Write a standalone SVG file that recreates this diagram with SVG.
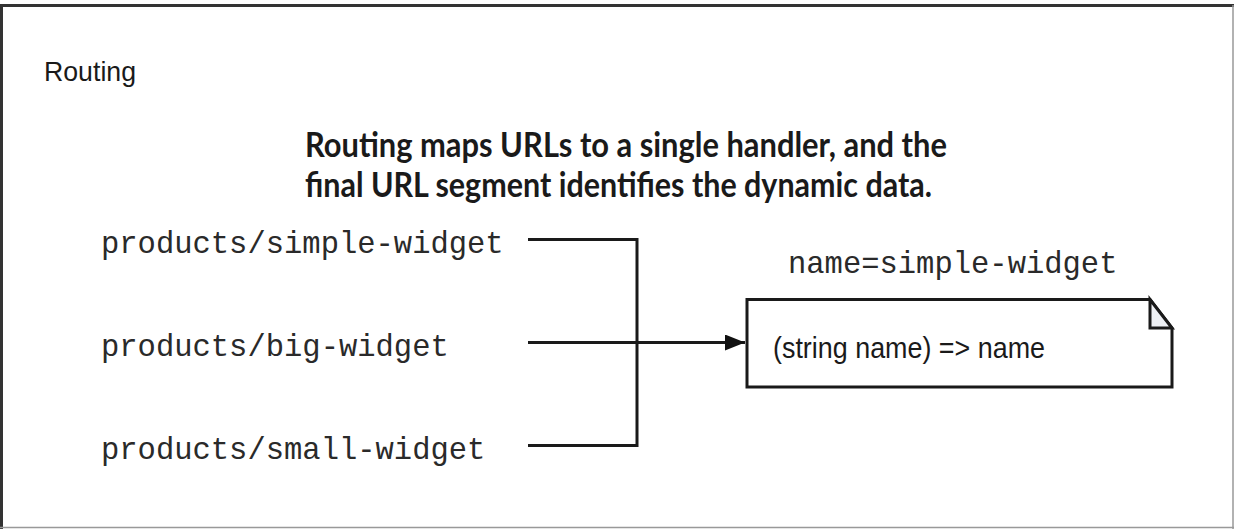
<svg xmlns="http://www.w3.org/2000/svg" width="1234" height="529" viewBox="0 0 1234 529">
<defs>
<style>
.mono{font-family:"Liberation Mono","Courier New",monospace;font-size:30.5px;fill:#2a2a2a}
.sans{font-family:"Liberation Sans",Arial,sans-serif;fill:#1a1a1a}
.title{font-family:Lato,"Liberation Sans",sans-serif;font-weight:bold;font-size:35px;fill:#1a1a1a}
.wire{fill:none;stroke:#1a1a1a;stroke-width:3}
</style>
<marker id="arr" viewBox="0 0 20 16" refX="20" refY="8" markerWidth="20" markerHeight="16" markerUnits="userSpaceOnUse" orient="auto">
<path d="M0,0 L20,8 L0,16 Z" fill="#111"/>
</marker>
</defs>
<rect width="1234" height="529" fill="#fff"/>
<g id="frame">
<line x1="0" y1="5.5" x2="1234" y2="5.5" stroke="#333" stroke-width="3"/>
<line x1="1.5" y1="5" x2="1.5" y2="529" stroke="#333" stroke-width="3"/>
<line x1="1233" y1="5" x2="1233" y2="529" stroke="#999" stroke-width="1.5"/>
<line x1="0" y1="527.5" x2="1234" y2="527.5" stroke="#999" stroke-width="1.5"/>
</g>
<g id="label-routing"><text class="sans" x="44" y="81" font-size="28" textLength="92" lengthAdjust="spacingAndGlyphs">Routing</text></g>
<g id="title">
<text class="title" x="305" y="157" textLength="642" lengthAdjust="spacingAndGlyphs">Routing maps URLs to a single handler, and the</text>
<text class="title" x="305" y="197" textLength="627" lengthAdjust="spacingAndGlyphs">final URL segment identifies the dynamic data.</text>
</g>
<g id="url-simple"><text class="mono" x="101" y="253">products/simple-widget</text></g>
<g id="url-big"><text class="mono" x="101" y="356">products/big-widget</text></g>
<g id="url-small"><text class="mono" x="101" y="459">products/small-widget</text></g>
<g id="connectors">
<polyline class="wire" points="528,239.5 637,239.5 637,445.5 528,445.5"/>
<line class="wire" x1="528" y1="342.5" x2="745" y2="342.5" marker-end="url(#arr)"/>
</g>
<g id="handler">
<text class="mono" x="788" y="273">name=simple-widget</text>
<path d="M747,299.5 H1150 L1172,328 V387 H747 Z" fill="#fff" stroke="#1a1a1a" stroke-width="3"/>
<path d="M1150,299.5 V328 H1172 Z" fill="#eef0f4" stroke="#1a1a1a" stroke-width="3" stroke-linejoin="miter"/>
<text class="sans" x="773" y="358" font-size="29" textLength="272" lengthAdjust="spacingAndGlyphs">(string name) =&gt; name</text>
</g>
</svg>
